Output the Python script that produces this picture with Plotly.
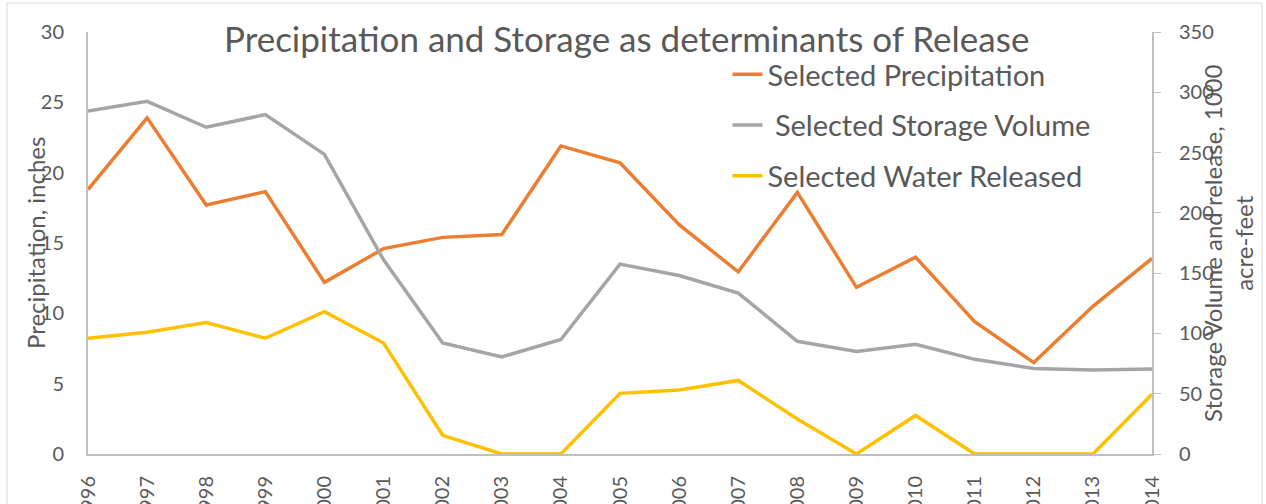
import plotly.graph_objects as go

years = list(range(1996, 2015))

precipitation = [18.8, 23.9, 17.7, 18.65, 12.2, 14.6, 15.4, 15.6, 21.9, 20.7,
                 16.3, 12.95, 18.6, 11.85, 14.0, 9.4, 6.5, 10.5, 13.9]
storage = [284.5, 292.5, 271, 281.5, 248.5, 161, 92, 80.5, 95, 157.5,
           148, 133.5, 93.5, 85, 91, 78.5, 71, 69.7, 70.5]
released = [96, 101, 109, 96, 118, 92, 15.5, 0, 0, 50.3,
            53, 61, 29, 0, 32, 0, 0, 0, 49.5]

TEXT = "#595959"
AXIS = "#bfbfbf"
FONT = "Lato"

fig = go.Figure()
fig.add_trace(go.Scatter(x=years, y=precipitation, name="Selected Precipitation",
                         mode="lines", line=dict(color="#ED7D31", width=3.5),
                         legendgroup="a"))
fig.add_trace(go.Scatter(x=years, y=storage, name="\u00a0Selected Storage Volume",
                         mode="lines", line=dict(color="#A5A5A5", width=3.5),
                         yaxis="y2", legendgroup="b"))
fig.add_trace(go.Scatter(x=years, y=released, name="Selected Water Released",
                         mode="lines", line=dict(color="#FFC000", width=3.5),
                         yaxis="y2", legendgroup="c"))

fig.update_layout(
    width=1266, height=504,
    margin=dict(l=88, r=114, t=32, b=50, autoexpand=False),
    paper_bgcolor="white", plot_bgcolor="white",
    font=dict(family=FONT, color=TEXT, size=20),
    title=dict(text="Precipitation and Storage as determinants of Release",
               x=0.495, y=0.921, xanchor="center", yanchor="middle",
               font=dict(size=35, color=TEXT, family=FONT)),
    xaxis=dict(range=[1996, 2014], tickmode="linear", tick0=1996, dtick=1,
               tickformat="d", tickangle=-90, showgrid=False, zeroline=False,
               showline=True, linecolor=AXIS, linewidth=2, ticks="",
               automargin=False,
               ticklabelstandoff=12, tickfont=dict(size=20, color=TEXT)),
    yaxis=dict(range=[0, 30], dtick=5, showgrid=False, zeroline=False,
               showline=True, linecolor=AXIS, linewidth=2, ticks="",
               automargin=False,
               ticklabelstandoff=18, tickfont=dict(size=20, color=TEXT)),
    yaxis2=dict(range=[0, 350], dtick=50, overlaying="y", side="right",
                showgrid=False, zeroline=False, showline=True, linecolor=AXIS,
                linewidth=2, ticks="outside", ticklen=7, tickcolor=AXIS,
                automargin=False,
                ticklabelstandoff=14, tickfont=dict(size=20, color=TEXT)),
    legend=dict(x=0.601, y=0.96, xanchor="left", yanchor="top",
                bgcolor="rgba(0,0,0,0)", font=dict(size=29, color=TEXT),
                traceorder="grouped", tracegroupgap=10),
    annotations=[
        dict(text="Precipitation, inches", xref="paper", yref="paper",
             x=-0.0498, y=0.5, textangle=-90, showarrow=False,
             xanchor="center", yanchor="middle", font=dict(size=24, color=TEXT)),
        dict(text="Storage Volume and release, 1000<br>acre-feet", xref="paper",
             yref="paper", x=1.0714, y=0.5, textangle=-90, showarrow=False,
             xanchor="center", yanchor="middle", font=dict(size=24, color=TEXT)),
    ],
    shapes=[dict(type="rect", xref="paper", yref="paper",
                 x0=-0.0761, x1=1.1034, y0=-0.14, y1=1.0687,
                 line=dict(color="#d9d9d9", width=1), layer="below")],
)

fig.write_html("out.html", config={"displayModeBar": False},
               post_script="document.body.style.margin='0';")
